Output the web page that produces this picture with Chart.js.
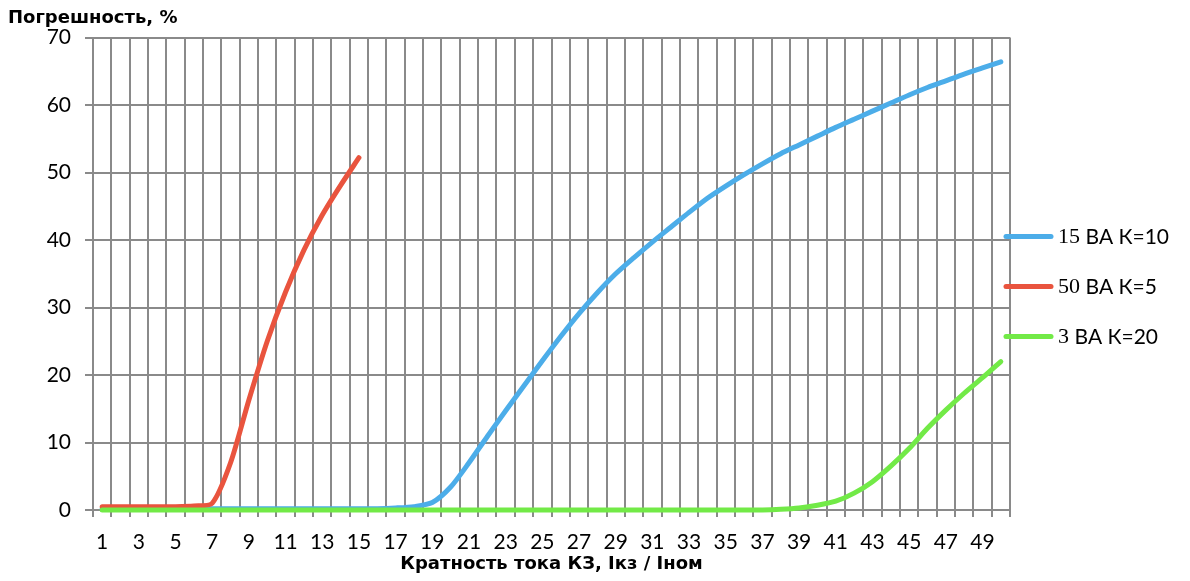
<!DOCTYPE html>
<html>
<head>
<meta charset="utf-8">
<script src="https://cdn.jsdelivr.net/npm/chart.js@4.4.1/dist/chart.umd.min.js"></script>
<style>
  html, body { margin: 0; padding: 0; background: #fff; }
</style>
</head>
<body>
<canvas id="chart" width="1190" height="581"></canvas>
<script>
// short-circuit current multiple, Ikz / Inom
const multiples = ['1','2','3','4','5','6','7','8','9','10','11','12','13','14','15','16','17','18','19','20',
  '21','22','23','24','25','26','27','28','29','30','31','32','33','34','35','36','37','38','39','40',
  '41','42','43','44','45','46','47','48','49','50'];

// error, %
const err15VA = [0.2,0.2,0.2,0.2,0.2,0.2,0.2,0.2,0.2,0.2,0.2,0.2,0.2,0.2,0.2,0.2,0.3,0.5,1.1,3.4,
  7.0,10.9,14.7,18.4,22.1,25.7,29.1,32.2,35.0,37.4,39.7,41.9,44.1,46.2,48.0,49.7,51.3,52.8,54.1,55.4,
  56.7,57.9,59.1,60.3,61.5,62.6,63.6,64.6,65.5,66.4];
const err50VA = [0.5,0.5,0.5,0.5,0.5,0.6,1.0,7.0,16.3,25.0,32.3,38.5,43.7,48.1,52.2];
const err3VA = [0,0,0,0,0,0,0,0,0,0,0,0,0,0,0,0,0,0,0,0,
  0,0,0,0,0,0,0,0,0,0,0,0,0,0,0,0,0,0.1,0.3,0.7,
  1.3,2.5,4.2,6.5,9.1,12.1,14.8,17.3,19.6,22.0];

const seriesNames = ['15 ВА К=10', '50 ВА К=5', '3 ВА К=20'];
const yTitle = 'Погрешность, %';
const xTitle = 'Кратность тока КЗ, Iкз / Iном';

const gridGray = '#8a8a8a';
const tickFont = { family: 'Lato', size: 21 };
const titleFont = { family: 'DejaVu Sans', size: 18, weight: 'bold' };

// legend drawn by hand so it can sit over the right edge of the plot like in Excel
const sideLegend = {
  id: 'sideLegend',
  afterDraw(chart) {
    const { ctx, chartArea } = chart;
    const x0 = chartArea.right - 7;
    chart.data.datasets.forEach((ds, i) => {
      const y = chartArea.top + 199 + i * 50;
      ctx.save();
      ctx.strokeStyle = ds.borderColor;
      ctx.lineWidth = 5;
      ctx.lineCap = 'round';
      ctx.beginPath();
      ctx.moveTo(x0 + 3, y);
      ctx.lineTo(x0 + 48, y);
      ctx.stroke();
      const parts = ds.label.split(' ');
      const num = parts.shift();
      ctx.fillStyle = '#000';
      ctx.textBaseline = 'middle';
      ctx.font = '22px "Liberation Serif"';
      ctx.fillText(num, x0 + 55, y + 1);
      const w = ctx.measureText(num + ' ').width;
      ctx.font = '21px Lato';
      ctx.fillText(parts.join(' '), x0 + 55 + w, y + 1);
      ctx.restore();
    });
  }
};

function draw() {
  const ctx = document.getElementById('chart').getContext('2d');
  new Chart(ctx, {
    type: 'line',
    data: {
      labels: multiples,
      datasets: [
        { label: seriesNames[0], data: err15VA, borderColor: '#4cade9', order: 2 },
        { label: seriesNames[1], data: err50VA, borderColor: '#e9543e', order: 1 },
        { label: seriesNames[2], data: err3VA, borderColor: '#72ea47', order: 0 }
      ]
    },
    options: {
      responsive: false,
      animation: false,
      devicePixelRatio: 1,
      layout: { padding: { left: 8, right: 180, top: 0, bottom: 0 } },
      elements: {
        line: { borderWidth: 5, tension: 0.25, borderCapStyle: 'round', borderJoinStyle: 'round', fill: false },
        point: { radius: 0, hoverRadius: 0 }
      },
      datasets: { line: { clip: false } },
      plugins: {
        legend: { display: false },
        tooltip: { enabled: false },
        title: {
          display: true,
          text: yTitle,
          align: 'start',
          color: '#000',
          font: titleFont,
          padding: { top: 8, bottom: 8 }
        }
      },
      scales: {
        x: {
          type: 'category',
          offset: true,
          grid: { offset: true, color: gridGray, lineWidth: 2, tickLength: 7 },
          border: { color: gridGray, width: 2 },
          ticks: {
            autoSkip: false,
            maxRotation: 0,
            color: '#000',
            font: tickFont,
            padding: 13,
            callback: (v, i) => (i % 2 === 0 ? multiples[i] : '')
          },
          title: {
            display: true,
            text: xTitle,
            color: '#000',
            font: titleFont,
            padding: { top: 0, bottom: 6 }
          },
          afterFit: (scale) => { scale.height = 71; }
        },
        y: {
          min: 0,
          max: 70,
          grid: { color: gridGray, lineWidth: 2, tickLength: 8 },
          border: { color: gridGray, width: 2 },
          ticks: { stepSize: 10, color: '#000', font: tickFont, padding: 14 },
          afterFit: (scale) => { scale.width = 85; }
        }
      }
    },
    plugins: [sideLegend]
  });
}

document.fonts.load('21px Lato').then(() => document.fonts.load('bold 18px "DejaVu Sans"')).then(draw, draw);
</script>
</body>
</html>
